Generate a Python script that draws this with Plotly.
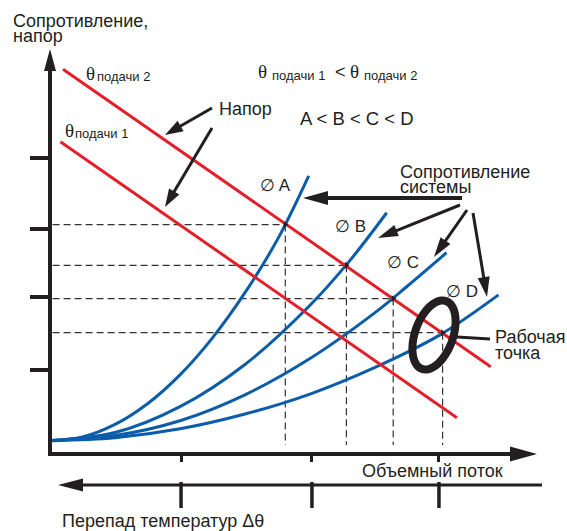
import math
import plotly.graph_objects as go

# ---------------- data ----------------
# x: volume flow (1 unit = one tick step), y: resistance / head
CURVE_A_X = [0.00, 0.25, 0.50, 0.75, 1.00, 1.25, 1.50, 1.75, 1.99]
CURVE_A_Y = [0.18, 0.23, 0.40, 0.68, 1.07, 1.57, 2.18, 2.90, 3.76]
CURVE_B_X = [0.00, 0.50, 1.00, 1.50, 2.00, 2.30, 2.59]
CURVE_B_Y = [0.18, 0.29, 0.64, 1.21, 2.01, 2.60, 3.26]
CURVE_C_X = [0.00, 0.50, 1.00, 1.50, 2.00, 2.50, 2.75, 3.05]
CURVE_C_Y = [0.18, 0.25, 0.45, 0.80, 1.29, 1.91, 2.27, 2.72]
CURVE_D_X = [0.00, 0.50, 1.00, 1.50, 2.00, 2.50, 3.00, 3.45]
CURVE_D_Y = [0.18, 0.22, 0.34, 0.54, 0.81, 1.17, 1.61, 2.15]

HEAD2_X = [0.10, 3.39]   # supply temperature 2 (upper pump line)
HEAD2_Y = [5.20, 1.18]
HEAD1_X = [0.08, 3.13]   # supply temperature 1 (lower pump line)
HEAD1_Y = [4.22, 0.49]

OP_X = [1.81, 2.28, 2.64, 3.02]   # operating points on upper line
OP_Y = [3.10, 2.55, 2.10, 1.64]
DASH_X0 = 0.02
DASH_Y0 = 0.12

X_TICKS = [1.008, 2.015, 2.992]
Y_TICKS = [1.135, 2.12, 3.04, 4.00]

# ---------------- styling / geometry ----------------
W, H = 567, 531
PL, PR, PT, PB = 52, 520, 66, 452          # plot area in pixels
X0PX, XU = 50, 130                          # data x=0 pixel, px per unit
Y0PX, YU = 454, 74
INK = "#231f20"
RED = "#e3202a"
BLUE = "#0b5ca9"
SANS = "Liberation Sans, Arial, sans-serif"
SERIF = "Liberation Serif, Times New Roman, serif"


def PXp(px):
    return (px - PL) / (PR - PL)


def PYp(py):
    return (PB - py) / (PB - PT)


fig = go.Figure()

# dashed guide lines
dx, dy = [], []
for xi, yi in zip(OP_X, OP_Y):
    dx += [DASH_X0, xi, None, xi, xi, None]
    dy += [yi, yi, None, yi, DASH_Y0, None]
fig.add_trace(go.Scatter(x=dx, y=dy, mode="lines",
                         line=dict(color="#333333", width=1.2, dash="7px,4px"),
                         hoverinfo="skip"))

for cx, cy in [(CURVE_A_X, CURVE_A_Y), (CURVE_B_X, CURVE_B_Y),
               (CURVE_C_X, CURVE_C_Y), (CURVE_D_X, CURVE_D_Y)]:
    fig.add_trace(go.Scatter(x=cx, y=cy, mode="lines",
                             line=dict(color=BLUE, width=3, shape="spline", smoothing=1.0),
                             hoverinfo="skip"))

for hx, hy in [(HEAD2_X, HEAD2_Y), (HEAD1_X, HEAD1_Y)]:
    fig.add_trace(go.Scatter(x=hx, y=hy, mode="lines",
                             line=dict(color=RED, width=3), hoverinfo="skip"))

fig.add_trace(go.Scatter(x=OP_X, y=OP_Y, mode="markers",
                         marker=dict(symbol="triangle-right", size=6, color=INK),
                         hoverinfo="skip"))

shapes = []
annotations = []


def tri(p1, p2, p3):
    pts = [p1, p2, p3]
    path = "M " + " L ".join(f"{PXp(x):.5f},{PYp(y):.5f}" for x, y in pts) + " Z"
    shapes.append(dict(type="path", xref="paper", yref="paper", path=path,
                       fillcolor=INK, line=dict(width=0)))


def arrow(tail, tip, lw, hl, hw):
    (x0, y0), (x1, y1) = tail, tip
    L = math.hypot(x1 - x0, y1 - y0)
    ux, uy = (x1 - x0) / L, (y1 - y0) / L
    bx, by = x1 - ux * hl, y1 - uy * hl
    nx, ny = -uy, ux
    shapes.append(dict(type="line", xref="paper", yref="paper",
                       x0=PXp(x0), y0=PYp(y0), x1=PXp(bx + ux * 2), y1=PYp(by + uy * 2),
                       line=dict(color=INK, width=lw)))
    tri((x1, y1), (bx + nx * hw / 2, by + ny * hw / 2), (bx - nx * hw / 2, by - ny * hw / 2))


# axis arrow heads
tri((50, 49), (44, 71), (56, 71))
tri((537, 454), (510, 446.5), (510, 461.5))
# lower (temperature difference) axis
arrow((542, 485), (58, 485), 3, 25, 13)
for xt in X_TICKS:
    shapes.append(dict(type="line", xref="x", yref="paper", x0=xt, x1=xt,
                       y0=PYp(482), y1=PYp(508), line=dict(color=INK, width=3.5)))

# pointer arrows
arrow((212, 108), (165, 135), 3, 18, 12)
arrow((212, 128), (165, 207), 3, 18, 12)
arrow((462, 198), (303, 198), 4, 25, 14)
arrow((460, 205), (378, 238), 3, 20, 12)
arrow((467, 210), (434, 257), 3, 20, 12)
arrow((473, 213), (487, 297), 3, 20, 12)

# working point ellipse
cxp, cyp, a, b = 434, 335, 36, 19
mx, my = 0.335, -0.943
nx_, ny_ = 0.943, 0.335
pts = []
for i in range(73):
    t = 2 * math.pi * i / 72
    pts.append((cxp + a * math.cos(t) * mx + b * math.sin(t) * nx_,
                cyp + a * math.cos(t) * my + b * math.sin(t) * ny_))
path = "M " + " L ".join(f"{PXp(x):.5f},{PYp(y):.5f}" for x, y in pts) + " Z"
shapes.append(dict(type="path", xref="paper", yref="paper", path=path,
                   line=dict(color=INK, width=8)))
shapes.append(dict(type="line", xref="paper", yref="paper",
                   x0=PXp(457), y0=PYp(337), x1=PXp(490), y1=PYp(339),
                   line=dict(color=INK, width=3)))


def label(txt, left, baseline, size=18, family=SANS, k=0.3465):
    annotations.append(dict(text=txt, xref="paper", yref="paper",
                            x=PXp(left), y=PYp(baseline - k * size),
                            xanchor="left", yanchor="middle", showarrow=False,
                            borderpad=0, borderwidth=0,
                            font=dict(size=size, family=family, color=INK)))


def theta(left, baseline, size=19):
    label("θ", left, baseline, size, SERIF, 0.3375)


label("Сопротивление,", 13, 27)
label("напор", 13, 42)
theta(86, 80)
label("подачи 2", 97, 81, 13)
theta(65, 137)
label("подачи 1", 75, 138, 13)
theta(258, 78)
label("подачи 1", 272, 80, 13)
label("<", 335, 78)
theta(350, 78)
label("подачи 2", 364, 80, 13)
label("A &lt; B &lt; C &lt; D", 300, 125, 18.5)
label("Напор", 219, 115)
label("Сопротивление", 400, 178)
label("системы", 400, 193)
label("∅ A", 260, 191, 17)
label("∅ B", 335, 232, 17)
label("∅ C", 387, 268, 17)
label("∅ D", 446, 297, 17)
label("Рабочая", 495, 343)
label("точка", 495, 359)
label("Объемный поток", 362, 477)
label("Перепад температур Δθ", 62, 527)

fig.update_layout(
    width=W, height=H,
    margin=dict(l=PL, r=W - PR, t=PT, b=H - PB, pad=0),
    paper_bgcolor="white", plot_bgcolor="white",
    showlegend=False, hovermode=False,
    shapes=shapes, annotations=annotations,
    xaxis=dict(range=[(PL - X0PX) / XU, (PR - X0PX) / XU], showgrid=False, zeroline=False,
               showline=True, linewidth=4, linecolor=INK,
               ticks="outside", tickvals=X_TICKS, ticklen=6, tickwidth=3, tickcolor=INK,
               showticklabels=False, fixedrange=True),
    yaxis=dict(range=[(Y0PX - PB) / YU, (Y0PX - PT) / YU], showgrid=False, zeroline=False,
               showline=True, linewidth=4, linecolor=INK,
               ticks="outside", tickvals=Y_TICKS, ticklen=18, tickwidth=3.5, tickcolor=INK,
               showticklabels=False, fixedrange=True),
)

fig.write_html("out.html", config={"displayModeBar": False},
               post_script="document.body.style.margin='0';document.body.style.overflow='hidden';")
